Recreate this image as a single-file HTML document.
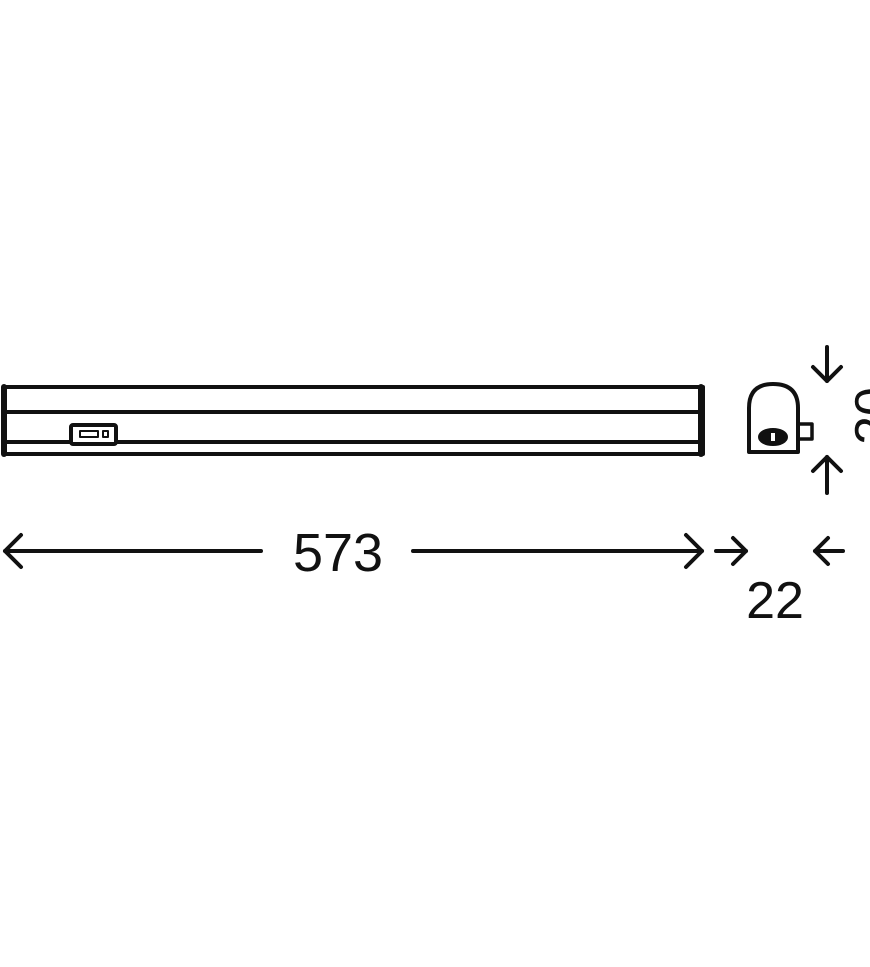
<!DOCTYPE html>
<html><head><meta charset="utf-8"><style>
html,body{margin:0;padding:0;background:#fff;}
svg{display:block;}
text{font-family:"Liberation Sans",sans-serif;fill:#111;}
</style></head><body>
<svg width="870" height="967" viewBox="0 0 870 967" xmlns="http://www.w3.org/2000/svg">
<g fill="none" stroke="#111" stroke-width="4" stroke-linecap="round" stroke-linejoin="round">
  <rect x="4" y="387" width="699" height="67"/>
  <line x1="4" y1="412" x2="703" y2="412"/>
  <line x1="4" y1="442" x2="703" y2="442"/>
  <line x1="701" y1="387" x2="701" y2="454" stroke-width="6"/>
  <line x1="4" y1="387" x2="4" y2="454" stroke-width="6"/>
  <rect x="71" y="425" width="45" height="19" rx="2" fill="#fff" stroke-width="4"/>
  <rect x="80" y="431" width="18" height="6" stroke-width="2"/>
  <rect x="103" y="431" width="5" height="6" stroke-width="2"/>
  <path d="M749 452 L749 408 Q749 384 773 384 Q798 384 798 408 L798 452 Z"/>
  <rect x="798" y="424" width="14" height="15" stroke-width="3.5"/>
  <ellipse cx="773" cy="437" rx="13" ry="7" fill="#111"/>
  <line x1="827" y1="347" x2="827" y2="381"/>
  <polyline points="813,367 827,381 841,367"/>
  <line x1="827" y1="457" x2="827" y2="493"/>
  <polyline points="813,471 827,457 841,471"/>
  <line x1="5" y1="551" x2="261" y2="551"/>
  <polyline points="21,535 5,551 21,567"/>
  <line x1="413" y1="551" x2="702" y2="551"/>
  <polyline points="686,535 702,551 686,567"/>
  <line x1="716" y1="551" x2="746" y2="551"/>
  <polyline points="733,538 746,551 733,564"/>
  <line x1="815" y1="551" x2="843" y2="551"/>
  <polyline points="828,538 815,551 828,564"/>
</g>
<rect x="771" y="433" width="4" height="8" fill="#fff"/>
<text x="338" y="571" font-size="54" text-anchor="middle">573</text>
<text x="775" y="618" font-size="52" text-anchor="middle">22</text>
<text x="0" y="0" font-size="52" text-anchor="middle" transform="translate(891,416) rotate(-90)">20</text>
</svg>
</body></html>
